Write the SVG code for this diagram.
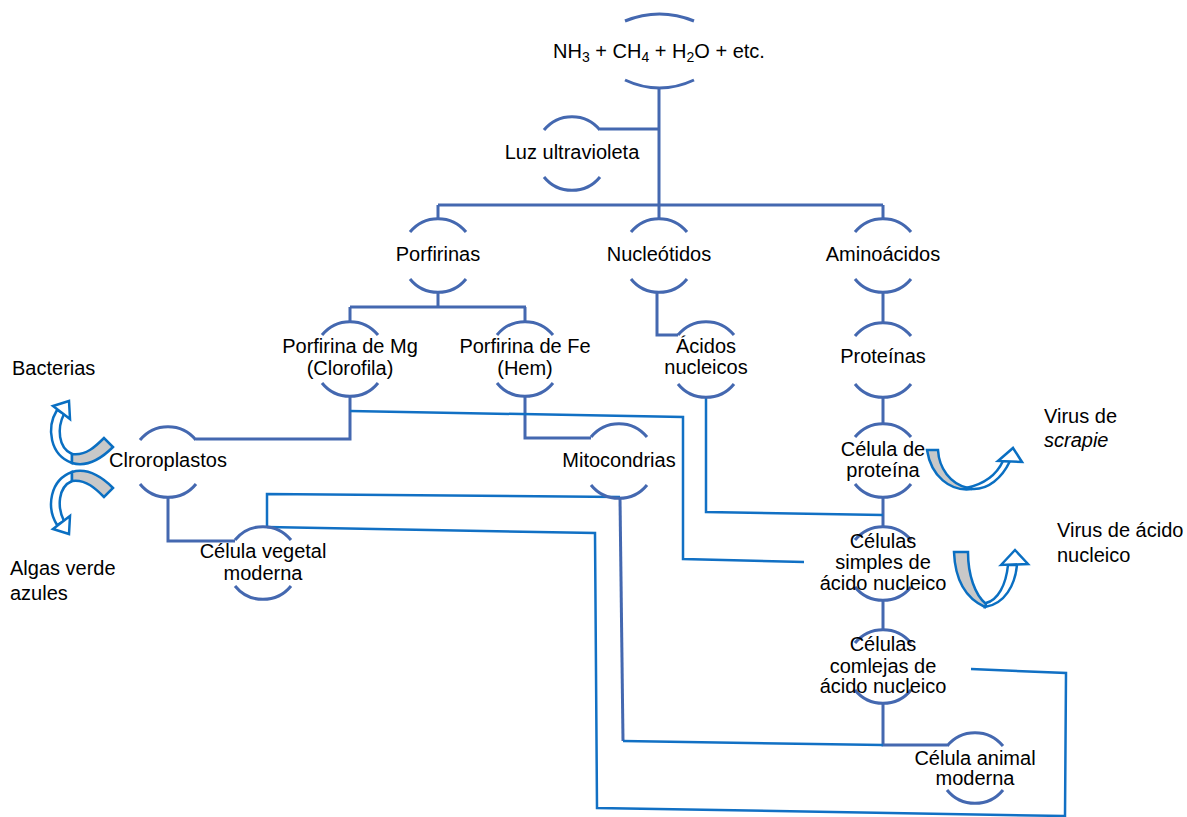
<svg xmlns="http://www.w3.org/2000/svg" width="1187" height="817" viewBox="0 0 1187 817">
<style>
.arc{fill:none;stroke:#4468B0;stroke-width:3}
.ln{fill:none;stroke:#4468B0;stroke-width:3}
.bl{fill:none;stroke:#1170C4;stroke-width:2.5}
.t{font-family:"Liberation Sans",Arial,sans-serif;font-size:20px;fill:#000;text-anchor:middle}
.tl{font-family:"Liberation Sans",Arial,sans-serif;font-size:20px;fill:#000}
.aw{fill:#fff;stroke:#0A6FC2;stroke-width:2.5;stroke-linejoin:miter}
.ag{fill:#C8C8C8;stroke:#0A6FC2;stroke-width:2.5;stroke-linejoin:miter}
</style>
<rect width="1187" height="817" fill="#fff"/>
<g id="connectors">
<path class="ln" d="M659,88 V205 M600,129 H659 M438,205 H883 M438,205 V219 M659,205 V219 M883,205 V219"/>
<path class="ln" d="M438,292 V307 M350,307 H526 M350,307 V322 M525,307 V322"/>
<path class="ln" d="M657,292 V335 H678"/>
<path class="ln" d="M883,292 V323 M883,397 V424 M883,497 V527 M883,600 V630"/>
<path class="ln" d="M350,396 V439 H196"/>
<path class="ln" d="M525,396 V438 H591"/>
<path class="ln" d="M168,497 V541 H235"/>
<path class="ln" d="M883,703 V745 H947"/>
<path class="ln" d="M620,498 L623,741"/>
<path class="bl" d="M623,741 L883,745"/>
<path class="bl" d="M350,411 L683,417 V559 L804,562"/>
<path class="bl" d="M706,397 V512 L883,515"/>
<path class="bl" d="M267,527 V494 L620,497"/>
<path class="bl" d="M267,527 L595,533 L597,808 L1064,816"/>
<path class="bl" d="M1065,817 L1066,673 L971,669"/>
</g>
<g id="n-nh3">
<path class="arc" d="M625,21 Q659.5,7 694,21"/>
<path class="arc" d="M625,80 Q659.5,96 694,80"/>
<text class="t" x="659" y="58">NH<tspan font-size="14" dy="4">3</tspan><tspan dy="-4"> + CH</tspan><tspan font-size="14" dy="4">4</tspan><tspan dy="-4"> + H</tspan><tspan font-size="14" dy="4">2</tspan><tspan dy="-4">O + etc.</tspan></text>
</g>
<g id="n-luz">
<path class="arc" d="M544,130 A36,36 0 0 1 600,130"/>
<path class="arc" d="M544,177 A36,36 0 0 0 600,177"/>
<text class="t" x="572" y="159">Luz ultravioleta</text>
</g>
<g id="n-porfirinas">
<path class="arc" d="M410,232 A36,36 0 0 1 466,232"/>
<path class="arc" d="M410,279 A36,36 0 0 0 466,279"/>
<text class="t" x="438" y="261">Porfirinas</text>
</g>
<g id="n-nucleotidos">
<path class="arc" d="M631,232 A36,36 0 0 1 687,232"/>
<path class="arc" d="M631,279 A36,36 0 0 0 687,279"/>
<text class="t" x="659" y="261">Nucleótidos</text>
</g>
<g id="n-aminoacidos">
<path class="arc" d="M855,232 A36,36 0 0 1 911,232"/>
<path class="arc" d="M855,279 A36,36 0 0 0 911,279"/>
<text class="t" x="883" y="261">Aminoácidos</text>
</g>
<g id="n-mg">
<path class="arc" d="M322,335 A36,36 0 0 1 378,335"/>
<path class="arc" d="M322,383 A36,36 0 0 0 378,383"/>
<text class="t" x="350" y="353">Porfirina de Mg</text>
<text class="t" x="350" y="375">(Clorofila)</text>
</g>
<g id="n-fe">
<path class="arc" d="M497,335 A36,36 0 0 1 553,335"/>
<path class="arc" d="M497,383 A36,36 0 0 0 553,383"/>
<text class="t" x="525" y="353">Porfirina de Fe</text>
<text class="t" x="525" y="375">(Hem)</text>
</g>
<g id="n-acidos">
<path class="arc" d="M678,335 A36,36 0 0 1 734,335"/>
<path class="arc" d="M678,384 A36,36 0 0 0 734,384"/>
<text class="t" x="706" y="353">Ácidos</text>
<text class="t" x="706" y="374">nucleicos</text>
</g>
<g id="n-proteinas">
<path class="arc" d="M855,336 A36,36 0 0 1 911,336"/>
<path class="arc" d="M855,384 A36,36 0 0 0 911,384"/>
<text class="t" x="883" y="363">Proteínas</text>
</g>
<g id="n-cloroplastos">
<path class="arc" d="M140,440 A36,36 0 0 1 196,440"/>
<path class="arc" d="M140,484 A36,36 0 0 0 196,484"/>
<text class="t" x="168" y="467">Clroroplastos</text>
</g>
<g id="n-mitocondrias">
<path class="arc" d="M591,437 A36,36 0 0 1 647,437"/>
<path class="arc" d="M591,485 A36,36 0 0 0 647,485"/>
<text class="t" x="619" y="467">Mitocondrias</text>
</g>
<g id="n-celula-proteina">
<path class="arc" d="M855,437 A36,36 0 0 1 911,437"/>
<path class="arc" d="M855,484 A36,36 0 0 0 911,484"/>
<text class="t" x="883" y="456">Célula de</text>
<text class="t" x="883" y="477">proteína</text>
</g>
<g id="n-vegetal">
<path class="arc" d="M235,540 A36,36 0 0 1 291,540"/>
<path class="arc" d="M235,586 A36,36 0 0 0 291,586"/>
<text class="t" x="263" y="558">Célula vegetal</text>
<text class="t" x="263" y="580">moderna</text>
</g>
<g id="n-simples">
<path class="arc" d="M855,540 A36,36 0 0 1 911,540"/>
<path class="arc" d="M855,587 A36,36 0 0 0 911,587"/>
<text class="t" x="883" y="548">Células</text>
<text class="t" x="883" y="569">simples de</text>
<text class="t" x="883" y="590">ácido nucleico</text>
</g>
<g id="n-complejas">
<path class="arc" d="M855,643 A36,36 0 0 1 911,643"/>
<path class="arc" d="M855,690 A36,36 0 0 0 911,690"/>
<text class="t" x="883" y="651">Células</text>
<text class="t" x="883" y="673">comlejas de</text>
<text class="t" x="883" y="693">ácido nucleico</text>
</g>
<g id="n-animal">
<path class="arc" d="M947,746 A36,36 0 0 1 1003,746"/>
<path class="arc" d="M947,790 A36,36 0 0 0 1003,790"/>
<text class="t" x="975" y="765">Célula animal</text>
<text class="t" x="975" y="785">moderna</text>
</g>
<g id="arrow-bacterias">
<path class="aw" d="M57,410 C46,428 50,455 72,463 L72,454 C58,448 57,428 64,414 Z"/>
<path class="ag" d="M72,454 C86,456 96,446 104,438 L113,447 C100,460 86,467 72,463 Z"/>
<path class="aw" d="M53,406 L69,401 L70,419 Z"/>
</g>
<g id="arrow-algas" transform="translate(0,935) scale(1,-1)">
<path class="aw" d="M57,410 C46,428 50,455 72,463 L72,454 C58,448 57,428 64,414 Z"/>
<path class="ag" d="M72,454 C86,456 96,446 104,438 L113,447 C100,460 86,467 72,463 Z"/>
<path class="aw" d="M53,406 L69,401 L70,419 Z"/>
</g>
<g id="arrow-scrapie">
<path class="aw" d="M972,489 C988,490 1002,478 1010,461 L1003,461 C997,474 985,484 966,488 Z"/>
<path class="aw" d="M998,461 L1013,448 L1022,462 Z"/>
<path class="ag" d="M927,450 L938,450 C939,468 950,484 968,488 L972,489 C950,492 931,476 927,450 Z"/>
</g>
<g id="arrow-nucleico">
<path class="aw" d="M985,607 C1005,604 1015,585 1017,565 L1008,565 C1006,585 998,600 986,603 Z"/>
<path class="aw" d="M1001,565 L1015,550 L1028,564 Z"/>
<path class="ag" d="M954,552 L968,552 C968,575 975,595 986,604 L985,607 C965,598 955,578 954,552 Z"/>
</g>
<g id="labels">
<text class="tl" x="12" y="375">Bacterias</text>
<text class="tl" x="10" y="575">Algas verde</text>
<text class="tl" x="10" y="600">azules</text>
<text class="tl" x="1044" y="423">Virus de</text>
<text class="tl" x="1044" y="447" font-style="italic">scrapie</text>
<text class="tl" x="1057" y="537">Virus de ácido</text>
<text class="tl" x="1057" y="562">nucleico</text>
</g>
</svg>
